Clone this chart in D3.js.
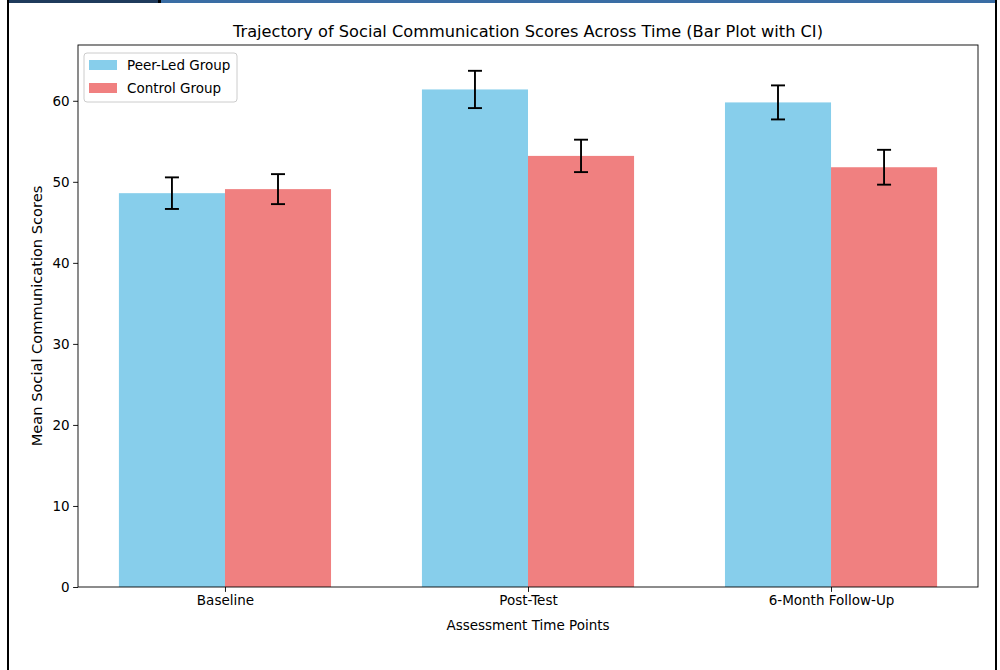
<!DOCTYPE html>
<html>
<head>
<meta charset="utf-8">
<script src="https://cdn.jsdelivr.net/npm/d3@7"></script>
<style>
  html, body { margin: 0; padding: 0; background: #fff; }
  svg { display: block; }
  text { font-family: "DejaVu Sans", sans-serif; fill: #000; }
</style>
</head>
<body>
<svg id="chart" width="1000" height="670"></svg>
<script>
// Time points and group results (means with confidence half-widths)
const timePoints = ["Baseline", "Post-Test", "6-Month Follow-Up"];
const groups = ["Peer-Led Group", "Control Group"];
const peerMeans = [48.6, 61.4, 59.8];
const peerCI = [1.95, 2.3, 2.1];
const controlMeans = [49.1, 53.2, 51.8];
const controlCI = [1.85, 2.0, 2.15];
const yTicks = [0, 10, 20, 30, 40, 50, 60];
const colors = ["#87CEEB", "#F08080"];

const series = [
  { name: groups[0], means: peerMeans, ci: peerCI, color: colors[0], offset: -0.175 },
  { name: groups[1], means: controlMeans, ci: controlCI, color: colors[1], offset: 0.175 }
];

const svg = d3.select("#chart");
const labelSize = 13.5;

// Window frame around the figure
svg.append("rect").attr("x", 7).attr("y", 0).attr("width", 2).attr("height", 670).attr("fill", "#000");
svg.append("rect").attr("x", 995).attr("y", 0).attr("width", 2).attr("height", 670).attr("fill", "#000");
svg.append("rect").attr("x", 9).attr("y", 0).attr("width", 149).attr("height", 3).attr("fill", "#1f3b5c");
svg.append("rect").attr("x", 158).attr("y", 0).attr("width", 3).attr("height", 3).attr("fill", "#000");
svg.append("rect").attr("x", 161).attr("y", 0).attr("width", 834).attr("height", 3).attr("fill", "#3a6da4");

const plot = { left: 78, right: 978, top: 45, bottom: 587 };
const barWidth = 0.35;

// Linear x over category index so bars sit at +/- half a bar width
const x = d3.scaleLinear()
  .domain([-0.485, 2.485])
  .range([plot.left, plot.right]);

const maxTop = d3.max(series.flatMap(s => s.means.map((m, i) => m + s.ci[i])));
const y = d3.scaleLinear()
  .domain([0, maxTop * 1.05])
  .range([plot.bottom, plot.top]);

const g = svg.append("g");

// Bars
series.forEach(s => {
  g.selectAll(null)
    .data(s.means)
    .enter()
    .append("rect")
    .attr("x", (d, i) => x(i + s.offset - barWidth / 2))
    .attr("width", (d, i) => x(i + s.offset + barWidth / 2) - x(i + s.offset - barWidth / 2))
    .attr("y", d => y(d))
    .attr("height", d => y(0) - y(d))
    .attr("fill", s.color);
});

// Confidence interval whiskers
series.forEach(s => {
  s.means.forEach((m, i) => {
    const cx = x(i + s.offset);
    const lo = y(m - s.ci[i]);
    const hi = y(m + s.ci[i]);
    const eg = g.append("g").attr("stroke", "#000").attr("stroke-width", 1.9).attr("fill", "none");
    eg.append("line").attr("x1", cx).attr("x2", cx).attr("y1", lo).attr("y2", hi);
    eg.append("line").attr("x1", cx - 7).attr("x2", cx + 7).attr("y1", lo).attr("y2", lo);
    eg.append("line").attr("x1", cx - 7).attr("x2", cx + 7).attr("y1", hi).attr("y2", hi);
  });
});

// Axes
const yAxis = d3.axisLeft(y).tickValues(yTicks).tickSize(4.9).tickPadding(3.5).tickFormat(d3.format("d"));
const yG = svg.append("g").attr("transform", `translate(${plot.left},0)`).call(yAxis);
const xAxis = d3.axisBottom(x).tickValues([0, 1, 2]).tickSize(4.9).tickPadding(3.5).tickFormat(i => timePoints[i]);
const xG = svg.append("g").attr("transform", `translate(0,${plot.bottom})`).call(xAxis);
[yG, xG].forEach(a => {
  a.select(".domain").remove();
  a.selectAll(".tick line").attr("stroke", "#000").attr("stroke-width", 0.9);
  a.selectAll(".tick text").attr("font-size", labelSize).attr("font-family", "DejaVu Sans").attr("fill", "#000");
});

// Plot frame (spines)
svg.append("rect")
  .attr("x", plot.left).attr("y", plot.top)
  .attr("width", plot.right - plot.left).attr("height", plot.bottom - plot.top)
  .attr("fill", "none").attr("stroke", "#000").attr("stroke-width", 0.9);

// Title and axis labels
svg.append("text")
  .attr("x", (plot.left + plot.right) / 2).attr("y", 37)
  .attr("text-anchor", "middle").attr("font-size", 16.2)
  .text("Trajectory of Social Communication Scores Across Time (Bar Plot with CI)");

svg.append("text")
  .attr("x", (plot.left + plot.right) / 2).attr("y", 630)
  .attr("text-anchor", "middle").attr("font-size", labelSize)
  .text("Assessment Time Points");

svg.append("text")
  .attr("transform", `translate(42,${(plot.top + plot.bottom) / 2}) rotate(-90)`)
  .attr("text-anchor", "middle").attr("font-size", 14.6)
  .text("Mean Social Communication Scores");

// Legend
const lg = svg.append("g").attr("transform", "translate(84,53)");
lg.append("rect")
  .attr("width", 153).attr("height", 49).attr("rx", 3).attr("ry", 3)
  .attr("fill", "#fff").attr("fill-opacity", 0.8)
  .attr("stroke", "#cccccc").attr("stroke-width", 1);
series.forEach((s, i) => {
  lg.append("rect").attr("x", 5).attr("y", 7 + i * 23).attr("width", 28).attr("height", 10).attr("fill", s.color);
  lg.append("text").attr("x", 43).attr("y", 17 + i * 23).attr("font-size", labelSize).text(s.name);
});
</script>
</body>
</html>
